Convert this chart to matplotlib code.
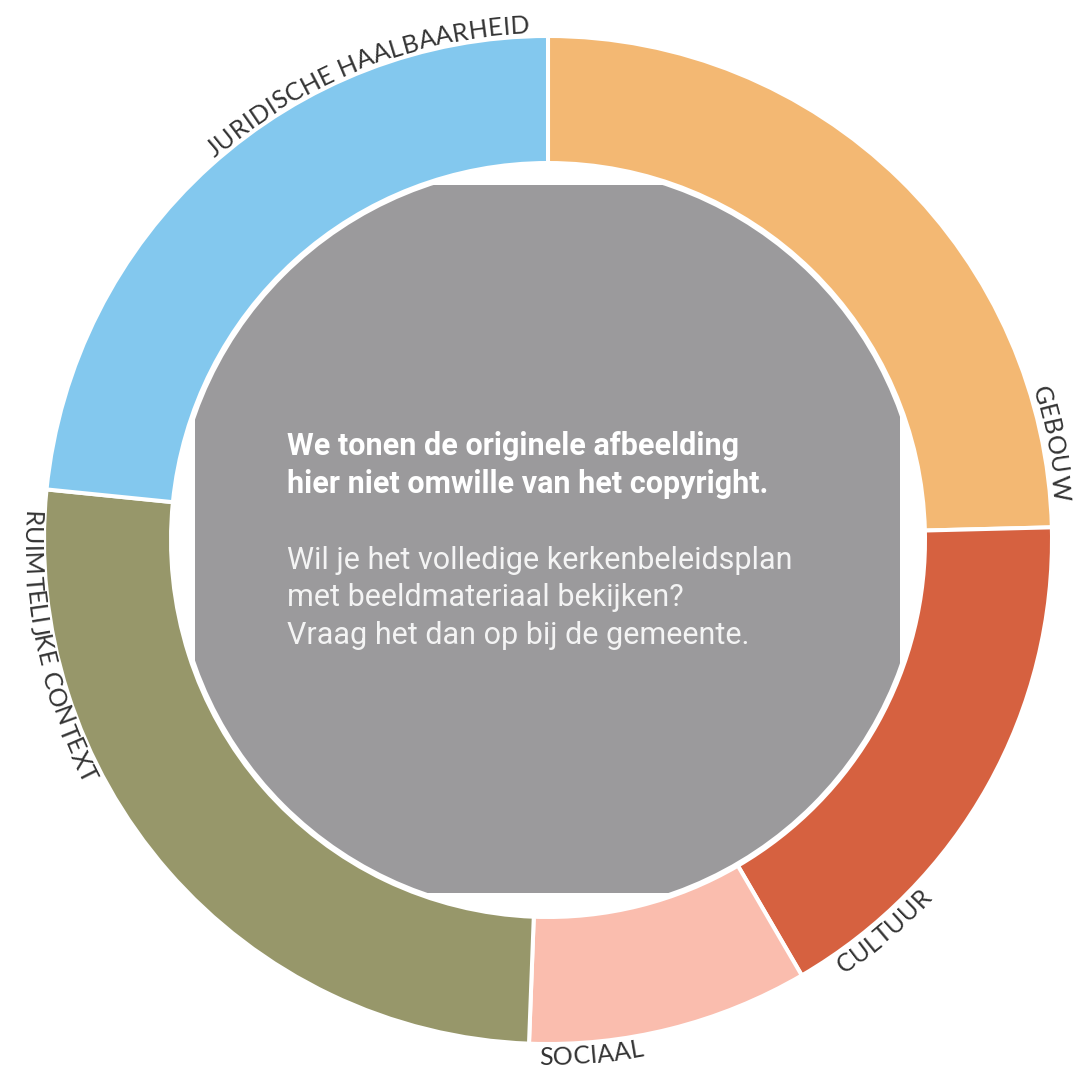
import numpy as np
import matplotlib
matplotlib.use("Agg")
import matplotlib.pyplot as plt
from matplotlib.patches import Circle, Rectangle
from matplotlib.font_manager import FontProperties, findfont, get_font

# ---------------- data ----------------
categories = ["GEBOUW", "CULTUUR", "SOCIAAL", "RUIMTELIJKE CONTEXT", "JURIDISCHE HAALBAARHEID"]
shares = [24.6, 17.0, 9.0, 26.0, 23.4]
colors = ["#F3B873", "#D66140", "#FABDAE", "#97976A", "#83C8EE"]

center_bold = ["We tonen de originele afbeelding",
               "hier niet omwille van het copyright."]
center_regular = ["Wil je het volledige kerkenbeleidsplan",
                  "met beeldmateriaal bekijken?",
                  "Vraag het dan op bij de gemeente."]

# ---------------- layout ----------------
W, H = 1078, 1072
fig = plt.figure(figsize=(W / 100, H / 100), dpi=100)
ax = fig.add_axes([0, 0, 1, 1])
cx, cy = 548, H - 540
R_out, ring_w = 504, 127

wedges, _ = ax.pie(shares, colors=colors, radius=R_out, center=(cx, cy), startangle=90,
                   counterclock=False, frame=False,
                   wedgeprops=dict(width=ring_w, edgecolor="white", linewidth=2.9))
ax.set_xlim(0, W)
ax.set_ylim(0, H)
ax.set_aspect("equal")
ax.axis("off")

# grey placeholder image in the centre (circle clipped to a square)
clip = Rectangle((195, H - 893), 705, 708, transform=ax.transData)
disc = Circle((cx, cy), 373, facecolor="#9B9A9C", edgecolor="none", zorder=3)
ax.add_patch(disc)
disc.set_clip_path(clip)

ytop = H - 455
for i, line in enumerate(center_bold):
    ax.text(287, ytop - i * 38, line, ha="left", va="baseline", fontsize=22,
            family="Roboto", weight="bold", color="white", zorder=4)
ytop2 = H - 569
for i, line in enumerate(center_regular):
    ax.text(287, ytop2 - i * 37.5, line, ha="left", va="baseline", fontsize=22,
            family="Roboto", weight="normal", color="#F4F4F4", zorder=4)

# ---------------- curved labels ----------------
label_fp = FontProperties(family="Lato", weight="normal", size=18)
font = get_font(findfont(label_fp))
font.set_size(label_fp.get_size_in_points(), 100)
TRACK = 0.3


def curved_label(text, theta_anchor, r, top):
    advs = []
    for ch in text:
        g = font.load_char(ord(ch))
        advs.append(g.linearHoriAdvance / 65536.0 + TRACK)
    total = sum(advs) - TRACK
    if top:
        th_start = theta_anchor + total / r   # text ends at anchor, reads clockwise
        sign = -1
    else:
        th_start = theta_anchor               # text starts at anchor, reads counter-clockwise
        sign = 1
    s = 0.0
    for ch, a in zip(text, advs):
        mid = s + (a - TRACK) / 2.0
        th = th_start + sign * mid / r
        x, y = cx + r * np.cos(th), cy + r * np.sin(th)
        rot = np.degrees(th) - 90 if top else np.degrees(th) + 90
        ax.text(x, y, ch, fontproperties=label_fp, color="#333333", rotation=rot,
                rotation_mode="anchor", ha="center", va="baseline", zorder=5)
        s += a


# segment boundaries (clockwise end of each wedge)
bounds = [np.radians(w.theta1) for w in wedges]  # counterclock=False -> theta1 is clockwise end
label_offsets = [26, 37, 11, 24, 18]      # pixels along the arc from the wedge end
label_top = [True, False, False, False, True]
R_TOP, R_BOT = 507, 525
for name, th_end, off, top in zip(categories, bounds, label_offsets, label_top):
    r = R_TOP if top else R_BOT
    curved_label(name, th_end + off / r, r, top)

fig.savefig("out.png", dpi=100, facecolor="white")
